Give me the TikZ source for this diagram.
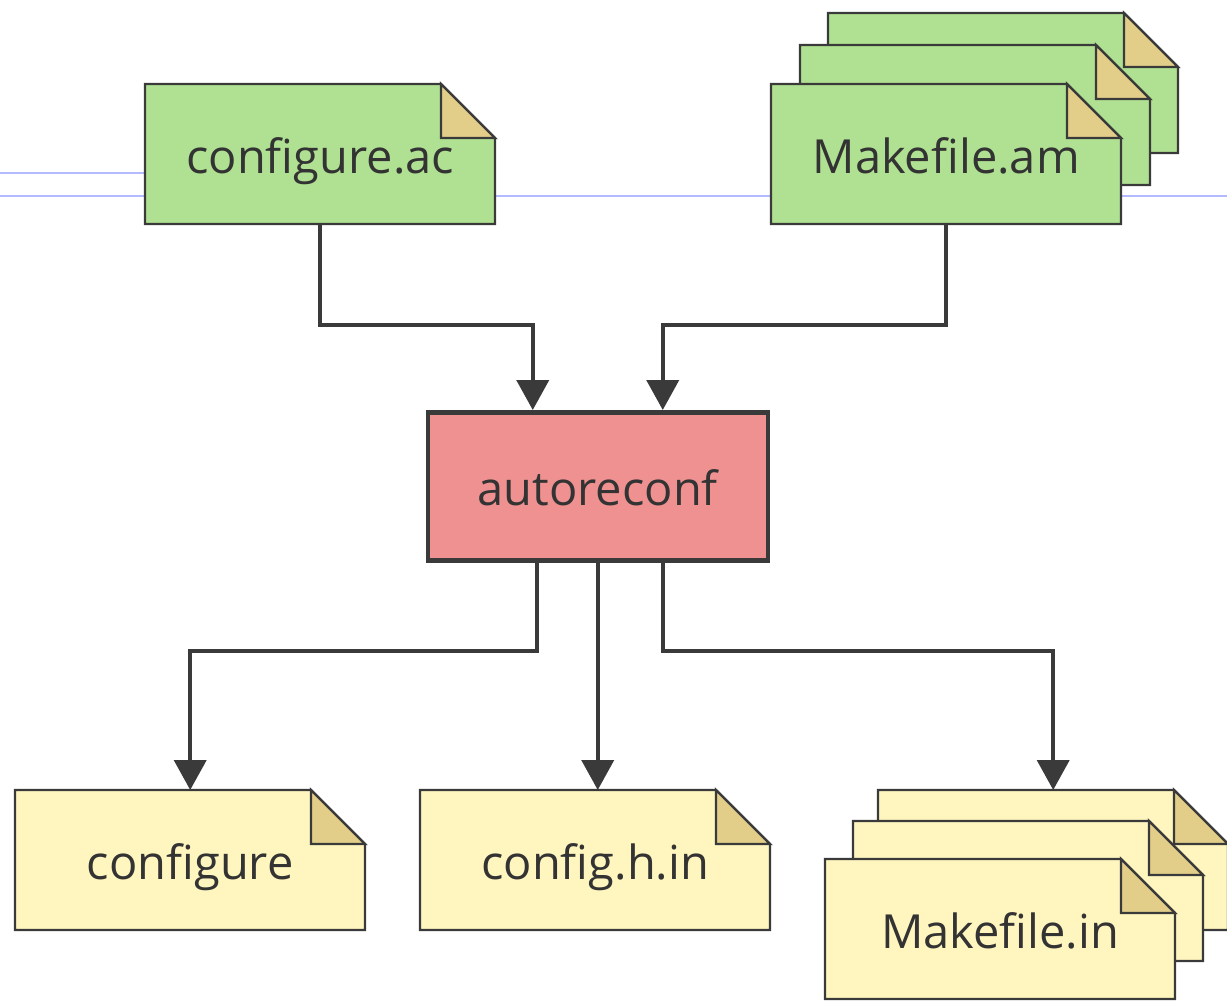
\documentclass[tikz,border=0pt]{standalone}
\usepackage{fontspec}
\setmainfont{Open Sans}
\usetikzlibrary{arrows.meta,calc}

\definecolor{edgec}{HTML}{3A3A3A}
\definecolor{textc}{HTML}{333333}
\definecolor{greenc}{HTML}{B0E192}
\definecolor{yellowc}{HTML}{FFF5BF}
\definecolor{foldc}{HTML}{E2CE88}
\definecolor{pinkc}{HTML}{EE9190}
\definecolor{guidec}{HTML}{B4BAFF}

\tikzset{
  notebody/.style={draw=edgec, line width=2.4pt, line join=miter},
  label text/.style={font=\fontsize{47}{56}\selectfont, text=textc, inner sep=0pt,
    text height=38pt, text depth=0pt},
  conn/.style={draw=edgec, line width=4pt, -{Triangle[width=32pt,length=30pt]}},
  guide/.style={draw=guidec, line width=1.2pt},
}

% A document note with a folded top-right corner; #1 name, (#2,#3) top-left,
% #4 fill colour, #5 text (empty for the back sheets of a stack)
\newcommand\docnote[5]{%
  \path[notebody, fill=#4] (#2,#3) -- ++(296,0) -- ++(54,54) -- ++(0,86)
    -- ++(-350,0) -- cycle;
  \path[notebody, fill=foldc] (#2+296,#3) -- ++(0,54) -- ++(54,0) -- cycle;
  \node[label text, minimum width=350pt, minimum height=140pt, anchor=north west]
    (#1) at (#2,#3) {#5};
}

\begin{document}
\begin{tikzpicture}[x=1pt,y=-1pt]
\useasboundingbox (0,0) rectangle (1227,1001);
\clip (0,0) rectangle (1227,1001);

% faint guide lines behind the inputs
\draw[guide] (0,173) -- (145,173);
\draw[guide] (0,196) -- (1227,196);

% inputs
\docnote{cfgac}{145}{84}{greenc}{configure.ac}
\docnote{mam3}{828}{13}{greenc}{}
\docnote{mam2}{800}{45}{greenc}{}
\docnote{mam}{771}{84}{greenc}{Makefile.am}

% the tool
\node[draw=edgec, line width=4.5pt, fill=pinkc, minimum width=340pt,
      minimum height=148pt, label text, anchor=north west] (auto) at (425.5,410) {autoreconf};

% outputs
\docnote{conf}{15}{790}{yellowc}{configure}
\docnote{cfgh}{420}{790}{yellowc}{config.h.in}
\docnote{min3}{878}{790}{yellowc}{}
\docnote{min2}{853}{821}{yellowc}{}
\docnote{min}{825}{859}{yellowc}{Makefile.in}

% connectors
\draw[conn] (cfgac.south) -- ++(0,101) -| ([xshift=-65pt]auto.north);
\draw[conn] (mam.south) -- ++(0,101) -| ([xshift=65pt]auto.north);
\draw[conn] ([xshift=-61pt]auto.south) -- ++(0,88) -| (conf.north);
\draw[conn] (auto.south) -- (auto.south |- cfgh.north);
\draw[conn] ([xshift=65pt]auto.south) -- ++(0,88) -| (min3.north);
\end{tikzpicture}
\end{document}
